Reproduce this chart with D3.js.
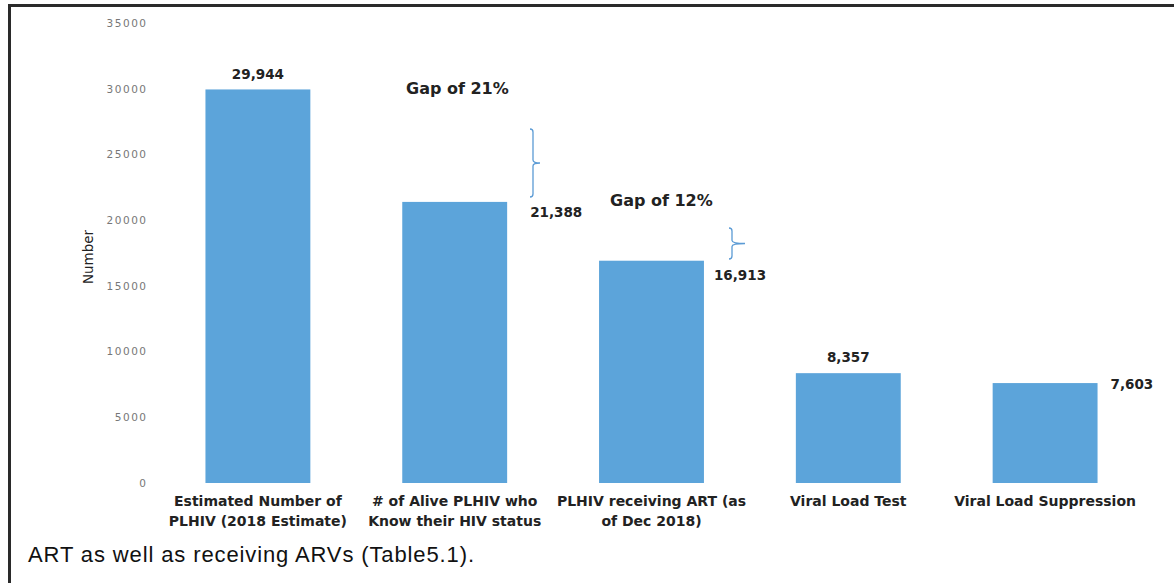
<!DOCTYPE html>
<html><head><meta charset="utf-8">
<script src="https://cdn.jsdelivr.net/npm/d3@7"></script>
<style>body{margin:0;background:#fff}</style>
</head><body>
<svg id="c" width="1174" height="583"></svg>
<script>
const categories = [
  ["Estimated Number of","PLHIV (2018 Estimate)"],
  ["# of Alive PLHIV who","Know their HIV status"],
  ["PLHIV receiving ART (as","of Dec 2018)"],
  ["Viral Load Test"],
  ["Viral Load Suppression"]
];
const values = [29944, 21388, 16913, 8357, 7603];
const valueLabels = ["29,944","21,388","16,913","8,357","7,603"];
const yTicks = [0,5000,10000,15000,20000,25000,30000,35000];
const gapLabels = ["Gap of 21%","Gap of 12%"];

const svg = d3.select("#c");
const boldFont = "'DejaVu Sans', Verdana, sans-serif";

svg.append("rect").attr("x",0).attr("y",0).attr("width",1174).attr("height",583).attr("fill","#fff");
svg.append("line").attr("x1",8).attr("x2",1174).attr("y1",5.5).attr("y2",5.5).attr("stroke","#2a2a2a").attr("stroke-width",3);
svg.append("line").attr("x1",9.5).attr("x2",9.5).attr("y1",4).attr("y2",583).attr("stroke","#2a2a2a").attr("stroke-width",3);

const x = d3.scaleBand().domain(d3.range(values.length)).range([159.5,1143.5]).paddingInner(0.467).paddingOuter(0.2335);
const y = d3.scaleLinear().domain([0,35000]).range([483,23]);

const yAxis = d3.axisLeft(y).tickValues(yTicks).tickSize(0).tickPadding(0).tickFormat(d3.format("d"));
const ga = svg.append("g").attr("transform","translate(147.5,0)").call(yAxis);
ga.select(".domain").remove();
ga.selectAll("text").attr("font-family","'DejaVu Sans', sans-serif").attr("font-size",10.5)
  .attr("letter-spacing","1.5px").attr("fill","#777").attr("dy","0.32em");

svg.append("text").attr("transform","translate(93,257) rotate(-90)").attr("text-anchor","middle")
  .attr("font-family","'DejaVu Sans', sans-serif").attr("font-size",13.5).attr("fill","#222").text("Number");

const barColor = "#5ca4da";
svg.selectAll("rect.bar").data(values).join("rect").attr("class","bar")
  .attr("x",(d,i)=>x(i)).attr("width",x.bandwidth())
  .attr("y",d=>y(d)).attr("height",d=>y(0)-y(d)).attr("fill",barColor);

const lblPos = [
  {dx:0, dy:-10, anchor:"middle", center:true},
  {dx:23, dy:15, anchor:"start"},
  {dx:10, dy:19, anchor:"start"},
  {dx:0, dy:-11, anchor:"middle", center:true},
  {dx:13, dy:6, anchor:"start"}
];
svg.selectAll("text.vl").data(values).join("text").attr("class","vl")
  .attr("x",(d,i)=> lblPos[i].center ? x(i)+x.bandwidth()/2 : x(i)+x.bandwidth()+lblPos[i].dx)
  .attr("y",(d,i)=> y(d)+lblPos[i].dy)
  .attr("text-anchor",(d,i)=>lblPos[i].anchor)
  .attr("font-family",boldFont).attr("font-size",13.5).attr("font-weight","bold").attr("fill","#222")
  .text((d,i)=>valueLabels[i]);

categories.forEach((lines,i)=>{
  const t = svg.append("text").attr("text-anchor","middle")
    .attr("font-family",boldFont).attr("font-size",14).attr("font-weight","bold").attr("fill","#222");
  lines.forEach((ln,j)=>{
    t.append("tspan").attr("x",x(i)+x.bandwidth()/2).attr("y",506+j*20).text(ln);
  });
});

svg.append("text").attr("x",406).attr("y",94).attr("font-family",boldFont).attr("font-size",16).attr("font-weight","bold").attr("fill","#222").text(gapLabels[0]);
svg.append("text").attr("x",610).attr("y",206).attr("font-family",boldFont).attr("font-size",16).attr("font-weight","bold").attr("fill","#222").text(gapLabels[1]);

function brace(x0, y0, y1, w){
  const m = (y0+y1)/2, r = 3;
  const p = `M${x0},${y0} Q${x0+r},${y0} ${x0+r},${y0+r} L${x0+r},${m-r} Q${x0+r},${m} ${x0+w},${m} Q${x0+r},${m} ${x0+r},${m+r} L${x0+r},${y1-r} Q${x0+r},${y1} ${x0},${y1}`;
  svg.append("path").attr("d",p).attr("fill","none").attr("stroke","#5b9bd5").attr("stroke-width",1.3);
}
brace(530, 129, 197, 10);
brace(729, 228, 259, 16);

svg.append("text").attr("x",28).attr("y",562).attr("font-family","'Liberation Sans', 'Open Sans', sans-serif")
  .attr("font-size",22).attr("fill","#111").attr("textLength",446).attr("lengthAdjust","spacing")
  .text("ART as well as receiving ARVs (Table5.1).");
</script>
</body></html>
